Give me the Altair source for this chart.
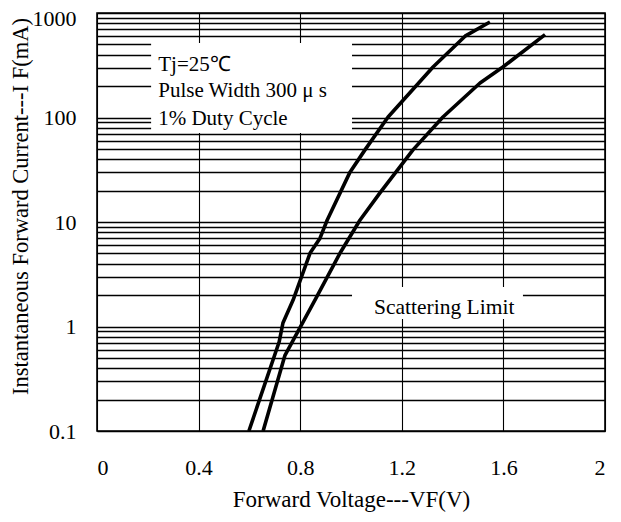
import altair as alt
import pandas as pd

# Curve A (left) and Curve B (right)
vf_a = [0.598, 0.717, 0.732, 0.772, 0.839, 0.878, 0.906, 0.996, 1.055, 1.146, 1.323, 1.449, 1.547]
if_a = [0.1, 0.71, 1.08, 1.79, 5.05, 7.0, 10.4, 30, 49, 101, 304, 600, 820]
vf_b = [0.654, 0.740, 0.858, 0.957, 1.035, 1.114, 1.244, 1.362, 1.508, 1.598, 1.764]
if_b = [0.1, 0.53, 1.79, 5.05, 10.4, 19, 49, 101, 214, 304, 620]

x_ticks = [0, 0.4, 0.8, 1.2, 1.6, 2]
y_decades = [0.1, 1, 10, 100, 1000]
y_grid = [0.1, 0.2, 0.3, 0.4, 0.5, 0.6, 0.7, 0.8, 0.9,
          1, 2, 3, 4, 5, 6, 7, 8, 9,
          10, 20, 30, 40, 50, 60, 70, 80, 90,
          100, 200, 300, 400, 500, 600, 700, 800, 900, 1000]

# annotation boxes (data units) and texts
box_x1 = [0.213, 1.004]
box_x2 = [1.004, 1.677]
box_y1 = [71.1, 1.18]
box_y2 = [516, 2.39]

note_text = ["Tj=25℃", "Pulse Width 300 μ s", "1% Duty Cycle"]
note_x = [0.241, 0.241, 0.241]
note_y = [278.6, 157, 84.8]

scat_text = ["Scattering Limit"]
scat_x = [1.367]
scat_y = [1.318]

curves = pd.DataFrame({
    "VF": vf_a + vf_b,
    "IF": if_a + if_b,
    "curve": ["A"] * len(vf_a) + ["B"] * len(vf_b),
    "order": list(range(len(vf_a))) + list(range(len(vf_b))),
})
boxes = pd.DataFrame({"VF": box_x1, "VF2": box_x2, "IF": box_y1, "IF2": box_y2})
notes = pd.DataFrame({"VF": note_x, "IF": note_y, "t": note_text})
scat = pd.DataFrame({"VF": scat_x, "IF": scat_y, "t": scat_text})

FONT = "Liberation Serif"

x_scale = alt.Scale(domain=[0, 2], nice=False)
y_scale = alt.Scale(type="log", domain=[0.1, 1000], nice=False)

lab_expr = ("datum.value==0.1?'0.1':datum.value==1?'1':datum.value==10?'10':"
            "datum.value==100?'100':datum.value==1000?'1000':''")

x_axis = alt.Axis(values=x_ticks, format=".1~f", grid=True, gridColor="black", gridWidth=1.1,
                  ticks=False, tickSize=0, labelPadding=26, labelFontSize=22, labelFont=FONT,
                  labelColor="black", domain=False,
                  title="Forward Voltage---VF(V)", titleFont=FONT, titleFontSize=23,
                  titleFontWeight="normal", titleColor="black", titleBaseline="middle", titleY=68)
y_axis = alt.Axis(values=y_grid, labelExpr=lab_expr, labelOverlap=False, grid=True,
                  gridColor="black", gridWidth=1.3, ticks=False, tickSize=0, labelPadding=21,
                  labelFontSize=22, labelFont=FONT, labelColor="black", domain=False,
                  labelOffset={"condition": {"test": "datum.value == 1000", "value": 5}, "value": 0},
                  title="Instantaneous Forward Current---I F(mA)", titleFont=FONT,
                  titleFontSize=22.5, titleFontWeight="normal", titleColor="black",
                  titleBaseline="middle", titleX=-77, titleY=193)

rects = alt.Chart(boxes).mark_rect(color="white").encode(
    x=alt.X("VF:Q", scale=x_scale, axis=x_axis),
    x2="VF2:Q",
    y=alt.Y("IF:Q", scale=y_scale, axis=y_axis),
    y2="IF2:Q",
)

lines = alt.Chart(curves).mark_line(color="black", strokeWidth=3.6, strokeJoin="round").encode(
    x=alt.X("VF:Q", scale=x_scale, axis=x_axis),
    y=alt.Y("IF:Q", scale=y_scale, axis=y_axis),
    detail="curve:N",
    order="order:Q",
)

note_marks = alt.Chart(notes).mark_text(font=FONT, fontSize=21, align="left",
                                        baseline="alphabetic", color="black").encode(
    x=alt.X("VF:Q", scale=x_scale, axis=x_axis),
    y=alt.Y("IF:Q", scale=y_scale, axis=y_axis),
    text="t:N",
)

scat_marks = alt.Chart(scat).mark_text(font=FONT, fontSize=21.5, align="center",
                                       baseline="alphabetic", color="black").encode(
    x=alt.X("VF:Q", scale=x_scale, axis=x_axis),
    y=alt.Y("IF:Q", scale=y_scale, axis=y_axis),
    text="t:N",
)

chart = alt.layer(rects, lines, note_marks, scat_marks).properties(
    width=508, height=418,
    autosize="none",
    padding={"left": 89, "top": 5, "right": 6, "bottom": 81},
    background="white",
).configure_view(stroke="black", strokeWidth=1.6)

chart.save("out.html", embed_options={"renderer": "svg", "actions": False})
